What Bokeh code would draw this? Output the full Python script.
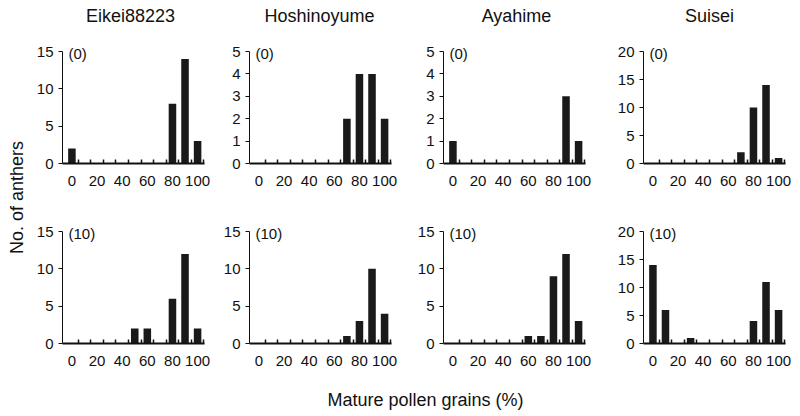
import math
from bokeh.plotting import figure
from bokeh.models import Range1d, FixedTicker, Label
from bokeh.layouts import row, column
from bokeh.embed import file_html
from bokeh.resources import INLINE

# ---- data ----
bins = [0, 10, 20, 30, 40, 50, 60, 70, 80, 90, 100]
x_tick_labels = [0, 20, 40, 60, 80, 100]
cultivars = ["Eikei88223", "Hoshinoyume", "Ayahime", "Suisei"]
treatments = ["(0)", "(10)"]

eikei_0 = [2, 0, 0, 0, 0, 0, 0, 0, 8, 14, 3]
hoshi_0 = [0, 0, 0, 0, 0, 0, 0, 2, 4, 4, 2]
aya_0 = [1, 0, 0, 0, 0, 0, 0, 0, 0, 3, 1]
suisei_0 = [0, 0, 0, 0, 0, 0, 0, 2, 10, 14, 1]

eikei_10 = [0, 0, 0, 0, 0, 2, 2, 0, 6, 12, 2]
hoshi_10 = [0, 0, 0, 0, 0, 0, 0, 1, 3, 10, 4]
aya_10 = [0, 0, 0, 0, 0, 0, 1, 1, 9, 12, 3]
suisei_10 = [14, 6, 0, 1, 0, 0, 0, 0, 4, 11, 6]

y_max_0 = [15, 5, 5, 20]
y_step_0 = [5, 1, 1, 5]
y_max_10 = [15, 15, 15, 20]
y_step_10 = [5, 5, 5, 5]

y_axis_label = "No. of anthers"
x_axis_label = "Mature pollen grains (%)"

# ---- style ----
FONT = "Liberation Sans"
BAR = "#1a1a1a"
AX = "#111111"
FRAME_W = 142
PLOT_H = 112          # pixel height of the 0..ymax part
LEFT = 34
RIGHTS = [11, 18, 24, 15]
TITLE_DX = [-3, -1, 2, -5]
YL_W = 28
# (top border, extra headroom inside frame above ymax, bottom border)
ROW1 = (0, 51, 34)
ROW2 = (20, 14, 30)
X0, X1 = -7.5, 105.5


def panel(values, ymax, ystep, tag, col, title, geom):
    top, extra, bottom = geom
    p = figure(
        width=LEFT + FRAME_W + RIGHTS[col],
        height=top + extra + PLOT_H + bottom,
        x_range=Range1d(X0, X1),
        y_range=Range1d(0, ymax * (PLOT_H + extra) / PLOT_H),
        output_backend="svg",
        toolbar_location=None,
        min_border_left=LEFT,
        min_border_right=RIGHTS[col],
        min_border_top=top,
        min_border_bottom=bottom,
    )
    p.outline_line_color = None
    p.xgrid.visible = False
    p.ygrid.visible = False
    p.vbar(x=bins, top=values, width=6, bottom=0, fill_color=BAR, line_color=None)

    xa = p.xaxis[0]
    xa.ticker = FixedTicker(ticks=x_tick_labels, minor_ticks=[b + 5 for b in bins])
    xa.major_tick_line_color = None
    xa.minor_tick_in = 4
    xa.minor_tick_out = 0
    xa.minor_tick_line_width = 1.5
    xa.minor_tick_line_color = AX
    xa.axis_line_width = 2
    xa.axis_line_color = AX
    xa.major_label_text_font = FONT
    xa.major_label_text_font_size = "15px"
    xa.major_label_text_color = "#111111"
    xa.major_label_standoff = 6

    ya = p.yaxis[0]
    ya.ticker = FixedTicker(ticks=list(range(0, ymax + 1, ystep)))
    ya.bounds = (0, ymax)
    ya.minor_tick_line_color = None
    ya.major_tick_in = 0
    ya.major_tick_out = 4
    ya.major_tick_line_color = AX
    ya.axis_line_width = 1
    ya.axis_line_color = AX
    ya.major_label_text_font = FONT
    ya.major_label_text_font_size = "15px"
    ya.major_label_text_color = "#111111"
    ya.major_label_standoff = 5

    if title is not None:
        p.add_layout(Label(x=(X0 + X1) / 2, y=ymax, x_offset=TITLE_DX[col], y_offset=36,
                           text=title, text_font=FONT, text_font_size="18px",
                           text_color="#111111", text_align="center",
                           text_baseline="middle"))

    p.add_layout(Label(x=X0, y=ymax, x_offset=6, y_offset=-2, text=tag,
                       text_font=FONT, text_font_size="15px", text_color="#111111",
                       text_align="left", text_baseline="middle"))
    return p


top_vals = [eikei_0, hoshi_0, aya_0, suisei_0]
bot_vals = [eikei_10, hoshi_10, aya_10, suisei_10]

top_row = row(*[panel(top_vals[i], y_max_0[i], y_step_0[i], treatments[0], i,
                      cultivars[i], ROW1) for i in range(4)], spacing=0)
bot_row = row(*[panel(bot_vals[i], y_max_10[i], y_step_10[i], treatments[1], i,
                      None, ROW2) for i in range(4)], spacing=0)

GRID_H = sum(ROW1) + sum(ROW2) + 2 * PLOT_H

yl = figure(width=YL_W, height=GRID_H, x_range=Range1d(0, YL_W), y_range=Range1d(0, GRID_H),
            output_backend="svg", toolbar_location=None, min_border=0)
yl.axis.visible = False
yl.grid.visible = False
yl.outline_line_color = None
yl.add_layout(Label(x=16, y=GRID_H - 197, text=y_axis_label, angle=math.pi / 2,
                    text_font=FONT, text_font_size="18px", text_color="#111111",
                    text_align="center", text_baseline="middle"))

TOTAL_W = YL_W + sum(LEFT + FRAME_W + r for r in RIGHTS)
XL_H = 416 - GRID_H
xl = figure(width=TOTAL_W, height=XL_H, x_range=Range1d(0, TOTAL_W), y_range=Range1d(0, XL_H),
            output_backend="svg", toolbar_location=None, min_border=0)
xl.axis.visible = False
xl.grid.visible = False
xl.outline_line_color = None
xl.add_layout(Label(x=425, y=XL_H - (399 - GRID_H), text=x_axis_label,
                    text_font=FONT, text_font_size="18px", text_color="#111111",
                    text_align="center", text_baseline="middle"))

layout = column(row(yl, column(top_row, bot_row, spacing=0), spacing=0), xl, spacing=0)

open("out.html", "w").write(file_html(layout, INLINE))
